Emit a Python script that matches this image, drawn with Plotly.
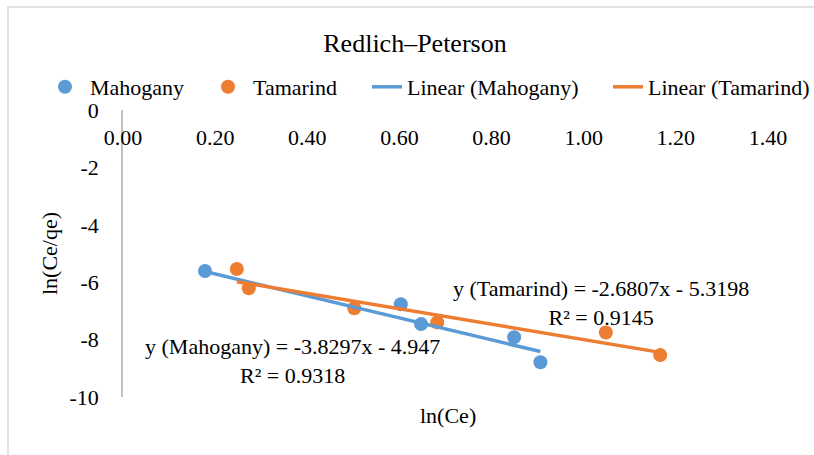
import plotly.graph_objects as go

# Linearised Redlich–Peterson data: ln(Ce) vs ln(Ce/qe)
mahogany_x = [0.178, 0.603, 0.647, 0.849, 0.906]
mahogany_y = [-5.61, -6.77, -7.46, -7.92, -8.79]
tamarind_x = [0.247, 0.273, 0.502, 0.682, 1.048, 1.166]
tamarind_y = [-5.54, -6.21, -6.91, -7.40, -7.75, -8.54]

# Least-squares trendline coefficients (slope, intercept, R²)
mahogany_fit = (-3.8297, -4.947, 0.9318)
tamarind_fit = (-2.6807, -5.3198, 0.9145)

x_ticks = [0.0, 0.2, 0.4, 0.6, 0.8, 1.0, 1.2, 1.4]
y_ticks = [0, -2, -4, -6, -8, -10]

BLUE = "#5B9BD5"
ORANGE = "#ED7D31"
FONT = "Liberation Serif"
W, H = 814, 455
L, R, T, B = 123, 46, 110, 58
PW, PH = W - L - R, H - T - B


def px_x(p):
    return (p - L) / PW


def px_y(p):
    return (H - B - p) / PH


def fit_line(xs, fit):
    lo, hi = min(xs), max(xs)
    m, c, _ = fit
    return [lo, hi], [m * lo + c, m * hi + c]


def equation(name, fit):
    m, c, r2 = fit
    sign = "-" if c < 0 else "+"
    return f"y ({name}) = {m:.4f}x {sign} {abs(c):g}<br>R² = {r2:.4f}"


fig = go.Figure()
fig.add_trace(go.Scatter(x=mahogany_x, y=mahogany_y, mode="markers", name="Mahogany",
                         marker=dict(color=BLUE, size=14), legend="legend"))
fig.add_trace(go.Scatter(x=tamarind_x, y=tamarind_y, mode="markers", name="Tamarind",
                         marker=dict(color=ORANGE, size=14), legend="legend2"))
lx, ly = fit_line(mahogany_x, mahogany_fit)
fig.add_trace(go.Scatter(x=lx, y=ly, mode="lines", name="Linear (Mahogany)",
                         line=dict(color=BLUE, width=3.5), legend="legend3"))
lx, ly = fit_line(tamarind_x, tamarind_fit)
fig.add_trace(go.Scatter(x=lx, y=ly, mode="lines", name="Linear (Tamarind)",
                         line=dict(color=ORANGE, width=3.5), legend="legend4"))

ann_font = dict(family=FONT, size=22, color="#000")
fig.add_annotation(x=px_x(292), y=px_y(361), xref="paper", yref="paper",
                   xanchor="center", yanchor="middle",
                   text=equation("Mahogany", mahogany_fit), showarrow=False,
                   font=ann_font, align="center")
fig.add_annotation(x=px_x(601), y=px_y(303), xref="paper", yref="paper",
                   xanchor="center", yanchor="middle",
                   text=equation("Tamarind", tamarind_fit), showarrow=False,
                   font=ann_font, align="center")
fig.add_annotation(x=px_x(448), y=px_y(415), xref="paper", yref="paper",
                   xanchor="center", yanchor="middle",
                   text="ln(Ce)", showarrow=False, font=ann_font)

# light chart-area border on the top and left
fig.add_shape(type="rect", xref="paper", yref="paper",
              x0=px_x(8), x1=px_x(830), y0=px_y(470), y1=px_y(7),
              line=dict(color="#d9d9d9", width=1.5), fillcolor="rgba(0,0,0,0)", layer="below")


def legend_at(left_px, item_w=30):
    return dict(orientation="h", xref="container", yref="container",
                x=left_px / W, xanchor="left", y=1 - 87 / H, yanchor="middle",
                font=dict(family=FONT, size=22), bgcolor="rgba(0,0,0,0)",
                itemwidth=item_w)


fig.update_layout(
    width=W, height=H,
    margin=dict(l=L, r=R, t=T, b=B, autoexpand=False),
    paper_bgcolor="white", plot_bgcolor="white",
    font=dict(family=FONT, size=22, color="#000"),
    title=dict(text="Redlich–Peterson", x=415 / W, xanchor="center",
               y=1 - 43 / H, yanchor="middle", font=dict(family=FONT, size=26)),
    showlegend=True,
    legend=legend_at(40, 40),
    legend2=legend_at(203, 40),
    legend3=legend_at(367),
    legend4=legend_at(608),
    xaxis=dict(range=[0, 1.4], tickvals=x_ticks, tickformat=".2f",
               anchor="free", position=px_y(122), showline=False, showgrid=False,
               zeroline=False, ticks="", tickfont=dict(family=FONT, size=22)),
    yaxis=dict(range=[-10, 0], tickvals=y_ticks, ticktext=[str(v) for v in y_ticks],
               showline=True, linecolor="#bfbfbf", linewidth=1.5, showgrid=False,
               zeroline=False, ticks="", ticklabelstandoff=18,
               tickfont=dict(family=FONT, size=22),
               title=dict(text="ln(Ce/qe)", standoff=6, font=dict(family=FONT, size=22))),
)

fig.write_html("out.html")
